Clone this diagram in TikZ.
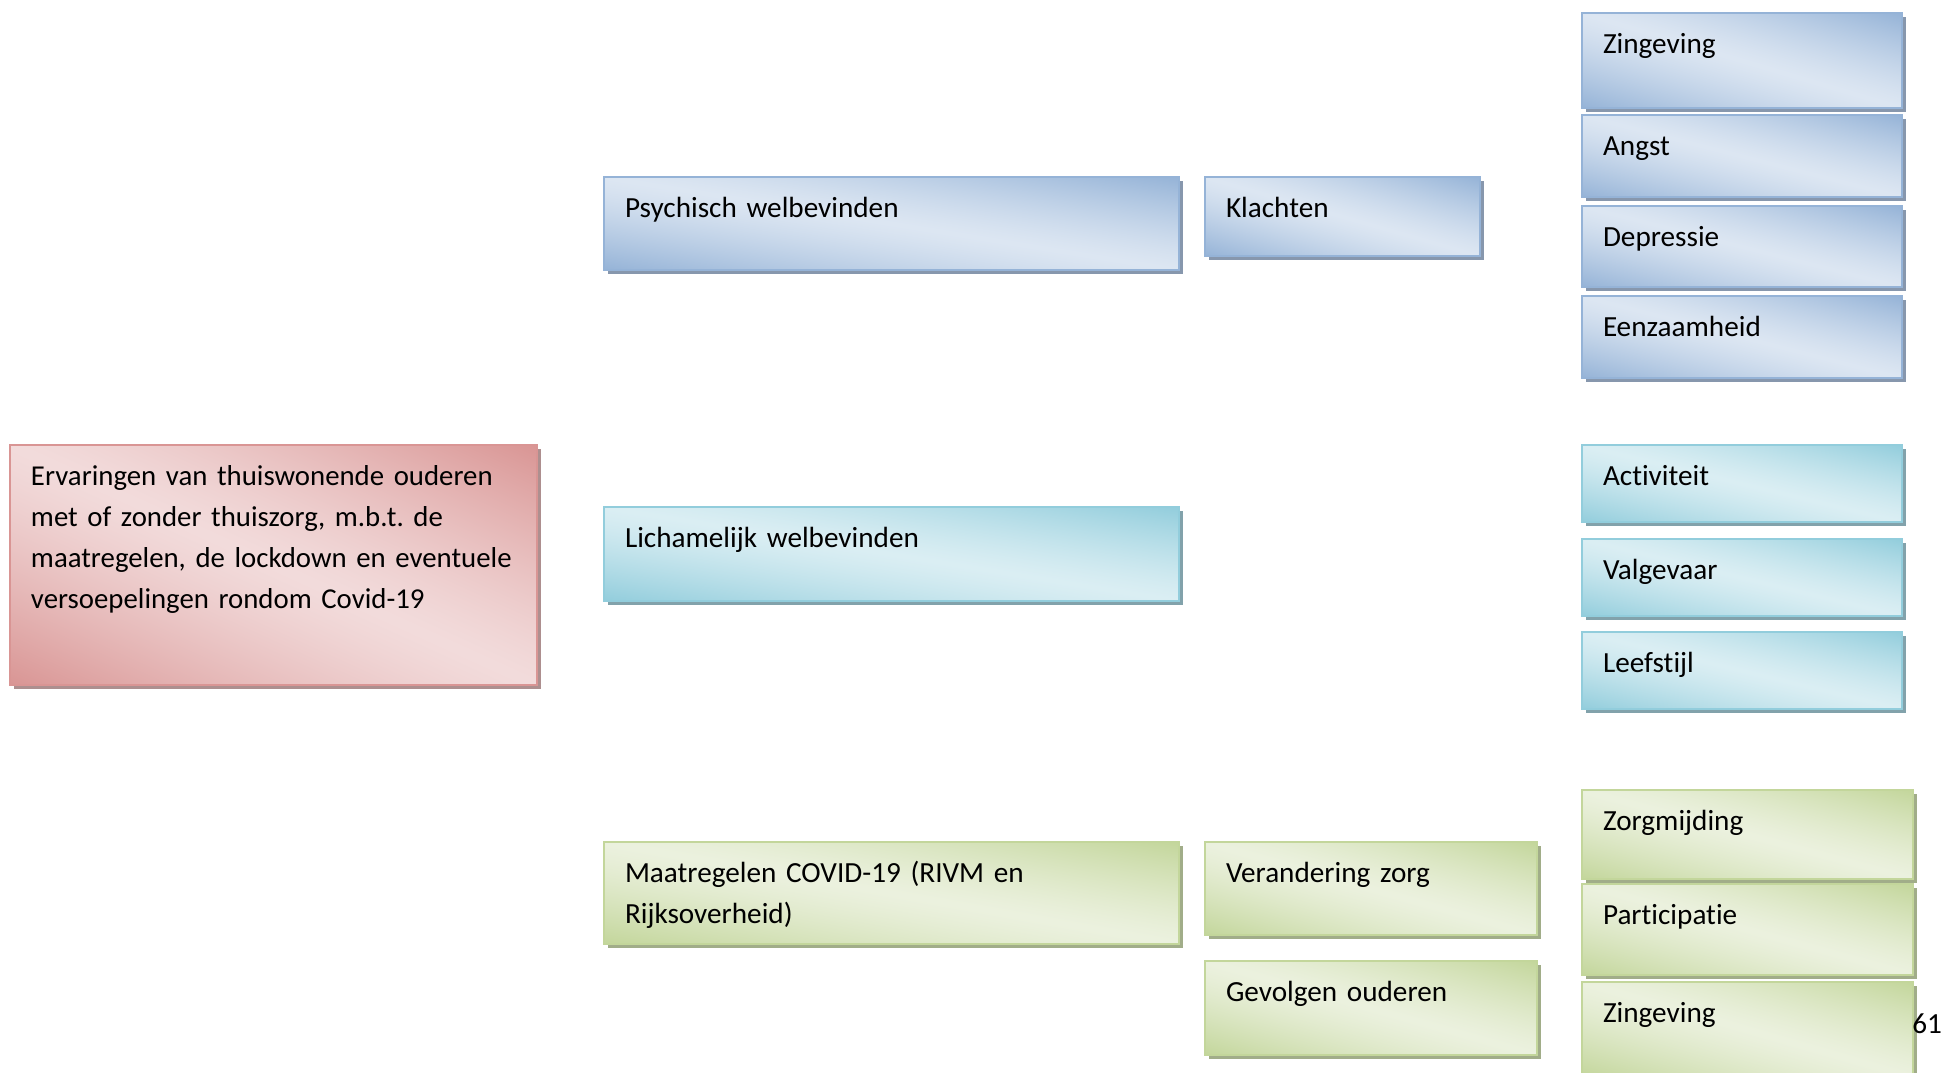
\documentclass[tikz,border=0pt]{standalone}
\usepackage{fontspec}
\setmainfont{Carlito}[Ligatures={NoCommon}]
\usepackage{xcolor}
\usepackage{tikz}
\usetikzlibrary{shadows,positioning}
\definecolor{bluedk}{HTML}{95B3D7}
\definecolor{bluesh}{HTML}{8797AD}
\definecolor{cyandk}{HTML}{92CDDC}
\definecolor{cyansh}{HTML}{82A2AB}
\definecolor{greendk}{HTML}{C3D69B}
\definecolor{greensh}{HTML}{A1AD89}
\definecolor{reddk}{HTML}{D99594}
\definecolor{redsh}{HTML}{AD8F8F}
% diagonale verloop: donker in de hoeken rechtsboven en linksonder
\pgfdeclarefunctionalshading{blueshade}{\pgfpoint{0bp}{0bp}}{\pgfpoint{100bp}{100bp}}{}{
  25 sub 50 div exch 25 sub 50 div add 1 sub abs dup 1 gt {pop 1} if 1.3 exp
  dup -0.279 mul 0.863 add exch dup -0.200 mul 0.902 add exch -0.106 mul 0.949 add}
\pgfdeclarefunctionalshading{cyanshade}{\pgfpoint{0bp}{0bp}}{\pgfpoint{100bp}{100bp}}{}{
  25 sub 50 div exch 25 sub 50 div add 1 sub abs dup 1 gt {pop 1} if 1.3 exp
  dup -0.282 mul 0.855 add exch dup -0.129 mul 0.933 add exch -0.090 mul 0.953 add}
\pgfdeclarefunctionalshading{greenshade}{\pgfpoint{0bp}{0bp}}{\pgfpoint{100bp}{100bp}}{}{
  25 sub 50 div exch 25 sub 50 div add 1 sub abs dup 1 gt {pop 1} if 1.3 exp
  dup -0.157 mul 0.922 add exch dup -0.106 mul 0.945 add exch -0.263 mul 0.871 add}
\pgfdeclarefunctionalshading{redshade}{\pgfpoint{0bp}{0bp}}{\pgfpoint{100bp}{100bp}}{}{
  25 sub 50 div exch 25 sub 50 div add 1 sub abs dup 1 gt {pop 1} if 1.3 exp
  dup -0.098 mul 0.949 add exch dup -0.275 mul 0.859 add exch -0.279 mul 0.859 add}
\tikzset{
  box/.style={anchor=north west, align=left, inner xsep=10.5pt, inner ysep=0pt, text height=20pt, font=\fontsize{14.6pt}{20.5pt}\selectfont\frenchspacing, line width=1pt},
  bbox/.style={box, draw=bluedk, shade, shading=blueshade, drop shadow={shadow xshift=2pt, shadow yshift=-2pt, fill=bluesh, opacity=1}},
  cbox/.style={box, draw=cyandk, shade, shading=cyanshade, drop shadow={shadow xshift=2pt, shadow yshift=-2pt, fill=cyansh, opacity=1}},
  gbox/.style={box, draw=greendk, shade, shading=greenshade, drop shadow={shadow xshift=2pt, shadow yshift=-2pt, fill=greensh, opacity=1}},
  rbox/.style={box, draw=reddk, shade, shading=redshade, drop shadow={shadow xshift=2pt, shadow yshift=-2pt, fill=redsh, opacity=1}}
}
\begin{document}
\begin{tikzpicture}[x=0.5pt, y=-0.5pt]
  \useasboundingbox (0,0) rectangle (1944,1072);
  % hoofdthema
  \node[rbox, font=\fontsize{14.4pt}{20.5pt}\selectfont\frenchspacing, text width=242.5pt, text depth=100pt] (erv) at (9,444) {Ervaringen van thuiswonende ouderen\\ met of zonder thuiszorg, m.b.t. de\\ maatregelen, de lockdown en eventuele\\ versoepelingen rondom Covid-19};
  % psychisch
  \node[bbox, text width=266.5pt, text depth=26.5pt] (psy) at (603,176) {Psychisch welbevinden};
  \node[bbox, text width=116.5pt, text depth=19.5pt] (kla) at (1204,176) {Klachten};
  \node[bbox, text width=139pt, text depth=27.5pt] (zin) at (1581,12) {Zingeving};
  \node[bbox, text width=139pt, text depth=21pt] (ang) at (1581,114) {Angst};
  \node[bbox, text width=139pt, text depth=20.5pt] (dep) at (1581,205) {Depressie};
  \node[bbox, text width=139pt, text depth=21pt] (eenz) at (1581,295) {Eenzaamheid};
  % lichamelijk
  \node[cbox, text width=266.5pt, text depth=27pt] (lich) at (603,506) {Lichamelijk welbevinden};
  \node[cbox, text width=139pt, text depth=18.5pt] (act) at (1581,444) {Activiteit};
  \node[cbox, text width=139pt, text depth=18.5pt] (valg) at (1581,538) {Valgevaar};
  \node[cbox, text width=139pt, text depth=18.5pt] (leef) at (1581,631) {Leefstijl};
  % maatregelen
  \node[gbox, text width=266.5pt, text depth=31pt] (maat) at (603,841) {Maatregelen COVID-19 (RIVM en\\ Rijksoverheid)};
  \node[gbox, text width=145pt, text depth=26.5pt] (zorg) at (1204,841) {Verandering zorg};
  \node[gbox, text width=145pt, text depth=27pt] (gev) at (1204,960) {Gevolgen ouderen};
  \node[gbox, text width=144.5pt, text depth=24.5pt] (mijd) at (1581,789) {Zorgmijding};
  \node[gbox, text width=144.5pt, text depth=25.5pt] (part) at (1581,883) {Participatie};
  \node[gbox, text width=144.5pt, text depth=27.5pt] (zin2) at (1581,981) {Zingeving};
  % paginanummer
  \node[anchor=base west, inner sep=0pt, font=\fontsize{14.6pt}{20.5pt}\selectfont] (pnr) at (1912,1033) {61};
\end{tikzpicture}
\end{document}
